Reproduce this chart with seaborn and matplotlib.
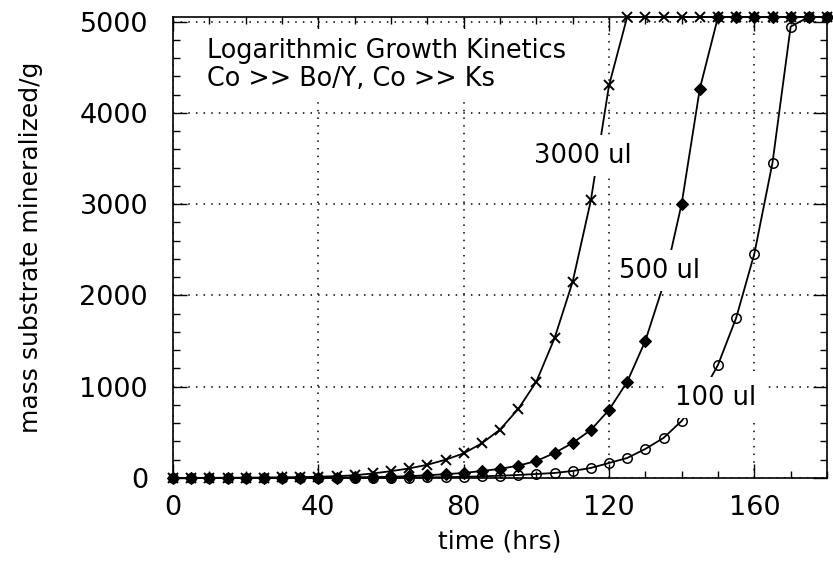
import matplotlib
matplotlib.use("Agg")
import matplotlib.pyplot as plt
import numpy as np
import pandas as pd
import seaborn as sns

# Sampling times (hrs)
hours = [0, 5, 10, 15, 20, 25, 30, 35, 40, 45, 50, 55, 60, 65, 70, 75, 80, 85,
         90, 95, 100, 105, 110, 115, 120, 125, 130, 135, 140, 145, 150, 155,
         160, 165, 170, 175, 180]

# Mass of substrate mineralized (g) for each inoculum volume
mass_3000ul = [1, 1.5, 2, 3, 4, 5, 7, 10, 14, 20, 30, 50, 75, 105, 145, 200,
               270, 380, 530, 755, 1055, 1530, 2150, 3040, 4300, 5050, 5050,
               5050, 5050, 5050, 5050, 5050, 5050, 5050, 5050, 5050, 5050]
mass_500ul = [0.3, 0.4, 0.5, 0.7, 1, 1.5, 2, 3, 4, 5, 7, 10, 14, 20, 30, 42,
              55, 77, 100, 135, 186, 274, 384, 526, 746, 1053, 1502, 2120,
              3004, 4265, 5050, 5050, 5050, 5050, 5050, 5050, 5050]
mass_100ul = [0.1, 0.1, 0.2, 0.2, 0.3, 0.4, 0.6, 0.8, 1, 1.5, 2, 3, 4, 5, 7,
              9, 13, 18, 25, 33, 44, 55, 77, 110, 164, 219, 318, 439, 625,
              880, 1239, 1754, 2456, 3454, 4945, 5050, 5050]

series_names = ["3000 ul", "500 ul", "100 ul"]
series_values = [mass_3000ul, mass_500ul, mass_100ul]
# Label anchor points (hrs, g) for each curve
label_pos = [(112.8, 3530), (133.8, 2270), (149.2, 880)]

df = pd.concat(
    [pd.DataFrame({"time": hours, "mass": vals, "volume": name})
     for name, vals in zip(series_names, series_values)],
    ignore_index=True,
)

sns.set_style("ticks")
plt.rcParams["font.family"] = ["DejaVu Sans"]
plt.rcParams.update({
    "text.color": "black",
    "axes.labelcolor": "black",
    "xtick.color": "black",
    "ytick.color": "black",
    "axes.edgecolor": "black",
})

fig = plt.figure(figsize=(8.33, 5.65), dpi=100)
ax = fig.add_axes([173 / 833, 1 - 478 / 565, 654 / 833, 461 / 565])

marker_style = {
    "3000 ul": dict(marker="x", markersize=7.5, markeredgewidth=1.4,
                    markerfacecolor="black"),
    "500 ul": dict(marker="D", markersize=5.8, markeredgewidth=0.8,
                   markerfacecolor="black"),
    "100 ul": dict(marker="o", markersize=6.8, markeredgewidth=1.1,
                   markerfacecolor="none"),
}

for name in series_names:
    sub = df[df["volume"] == name]
    sns.lineplot(data=sub, x="time", y="mass", ax=ax, color="black",
                 linewidth=1.3, markeredgecolor="black", clip_on=False,
                 zorder=3, legend=False, **marker_style[name])

ax.set_xlim(0, 180)
ax.set_ylim(0, 5050)
ax.set_xticks([0, 40, 80, 120, 160])
ax.set_xticks(np.arange(0, 181, 10), minor=True)
ax.set_yticks([0, 1000, 2000, 3000, 4000, 5000])
ax.set_yticks(np.arange(0, 5001, 200), minor=True)

ax.grid(True, which="major", color="black", linewidth=1.1,
        linestyle=(0, (1, 4)))
ax.tick_params(which="both", direction="in", top=True, right=True,
               color="black", width=1.0)
ax.tick_params(which="major", length=10, labelsize=19.5)
ax.tick_params(axis="y", which="major", pad=18)
ax.tick_params(axis="x", which="major", pad=12)
ax.tick_params(which="minor", length=5)
for sp in ax.spines.values():
    sp.set_linewidth(1.2)
    sp.set_color("black")

ax.set_xlabel("time (hrs)", fontsize=18)
ax.set_ylabel("mass substrate mineralized/g", fontsize=18)
ax.xaxis.set_label_coords(0.5, -0.112)
ax.yaxis.set_label_coords(-0.199, 0.5)

ax.text(0.052, 0.955, "Logarithmic Growth Kinetics\nCo >> Bo/Y, Co >> Ks",
        transform=ax.transAxes, ha="left", va="top", fontsize=18.4,
        linespacing=1.13, zorder=5,
        bbox=dict(boxstyle="square,pad=0.35", facecolor="white",
                  edgecolor="none"))

for name, (tx, ty) in zip(series_names, label_pos):
    ax.text(tx, ty, name, ha="center", va="center", fontsize=18.5, zorder=5,
            bbox=dict(boxstyle="square,pad=0.3", facecolor="white",
                      edgecolor="none"))

fig.savefig("out.png", dpi=100, facecolor="white")
